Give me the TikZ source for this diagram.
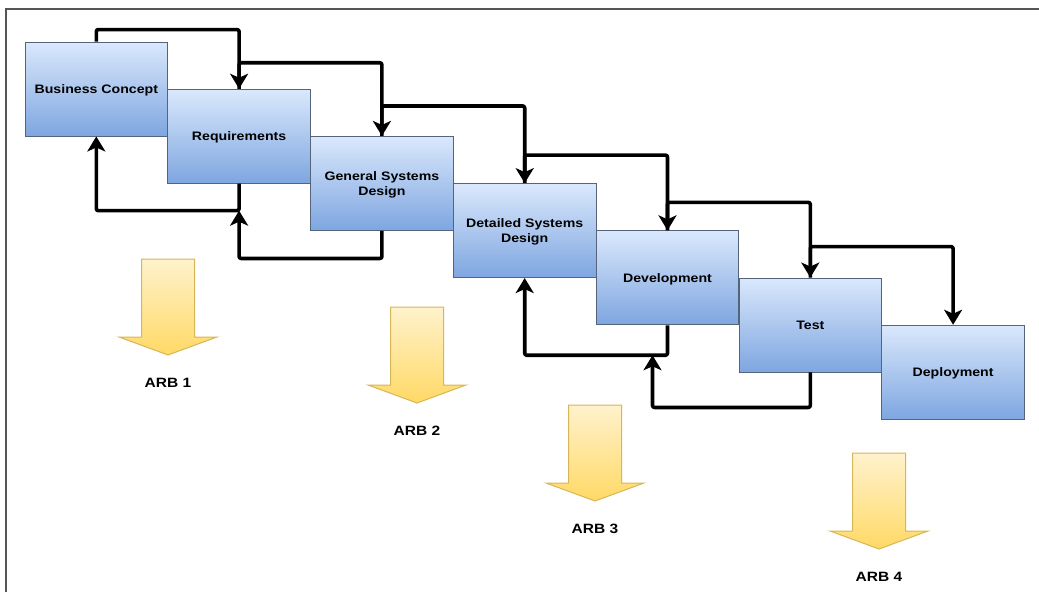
\documentclass[tikz,border=0pt]{standalone}
\usepackage{fontspec}
\setmainfont{Liberation Sans}[FakeStretch=1.15]
\usetikzlibrary{arrows.meta,calc}

\definecolor{boxtop}{HTML}{DAE8FC}
\definecolor{boxbot}{HTML}{7EA6E0}
\definecolor{boxline}{HTML}{55647A}
\definecolor{ytop}{HTML}{FFF2CC}
\definecolor{ybot}{HTML}{FFD966}
\definecolor{yline}{HTML}{D6B656}
\definecolor{frame}{HTML}{555555}

\tikzset{
  phase/.style={draw=boxline, line width=0.9pt, top color=boxtop, bottom color=boxbot,
    minimum width=142.5pt, minimum height=94pt, inner sep=0pt, align=center,
    text depth=-1.5pt, font=\fontsize{12.3}{15}\selectfont\bfseries},
  flow/.style={line width=3.6pt, line join=round, rounded corners=2pt,
    -{Stealth[length=15pt,width=18pt,inset=4pt]}},
  gate/.style={draw=yline, line width=1pt, top color=ytop, bottom color=ybot},
  gatelabel/.style={font=\fontsize{13.5}{15}\selectfont\bfseries, inner sep=0pt}
}

\begin{document}
\begin{tikzpicture}[x=1pt,y=-1pt]
  \useasboundingbox (0,0) rectangle (1039,592);

  % outer frame (top and left edges)
  \draw[frame, line width=2pt] (6,592) -- (6,8.5) -- (1039,8.5);

  % phases of the waterfall
  \node[phase] (bc)  at (96.3,89)    {Business Concept};
  \node[phase] (req) at (239.1,136.2) {Requirements};
  \node[phase] (gsd) at (381.9,183.4) {General Systems\\Design};
  \node[phase] (dsd) at (524.7,230.6) {Detailed Systems\\Design};
  \node[phase] (dev) at (667.5,277.8) {Development};
  \node[phase] (tst) at (810.3,325)   {Test};
  \node[phase] (dep) at (953.1,372.2) {Deployment};

  % forward hand-offs
  \draw[flow] (bc.north)  -- ++(0,-12) -| (req.north);
  \draw[flow] (req.north) -- ++(0,-26) -| (gsd.north);
  \draw[flow] (gsd.north) -- ++(0,-30) -| (dsd.north);
  \draw[flow] (dsd.north) -- ++(0,-28) -| (dev.north);
  \draw[flow] (dev.north) -- ++(0,-28) -| (tst.north);
  \draw[flow] (tst.north) -- ++(0,-31) -| (dep.north);

  % feedback loops
  \coordinate (j1) at ($(req.south)+(0,27)$);
  \coordinate (j2) at ($(dev.south)+(-15,30)$);
  \draw[flow] (req.south) -- ++(0,27) -| (bc.south);
  \draw[flow] (gsd.south) -- ++(0,27.6) -| (j1);
  \draw[flow] (dev.south) -- ++(0,30) -| (dsd.south);
  \draw[flow] (tst.south) -- ++(0,35) -| (j2);

  % architecture review board gates
  \foreach \cx/\ty/\n in {168/259/1, 417/307/2, 595/405/3, 879/453/4}{
    \path[gate] (\cx-26.5,\ty) -- (\cx+26.5,\ty) -- (\cx+26.5,\ty+78)
      -- (\cx+49,\ty+78) -- (\cx,\ty+96) -- (\cx-49,\ty+78)
      -- (\cx-26.5,\ty+78) -- cycle;
    \node[gatelabel] (arb\n) at (\cx,\ty+124) {ARB \n};
  }
\end{tikzpicture}
\end{document}
